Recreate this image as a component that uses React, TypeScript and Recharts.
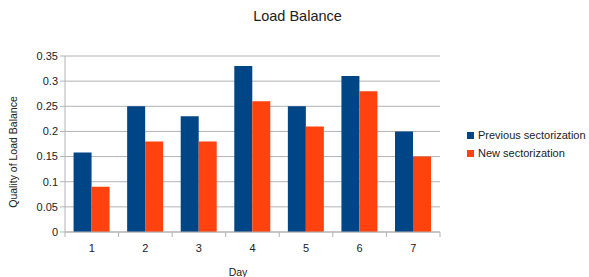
import React from "react";
import { BarChart, Bar, XAxis, YAxis, CartesianGrid, Label } from "recharts";

const DAYS = ["1", "2", "3", "4", "5", "6", "7"];
const PREVIOUS = [0.158, 0.25, 0.23, 0.33, 0.25, 0.31, 0.2];
const NEW = [0.09, 0.18, 0.18, 0.26, 0.21, 0.28, 0.15];
const Y_TICKS = [0, 0.05, 0.1, 0.15, 0.2, 0.25, 0.3, 0.35];

const BLUE = "#004586";
const ORANGE = "#ff420e";
const GRID = "#b3b3b3";
const FONT = "'Liberation Sans', Arial, sans-serif";

const data = DAYS.map((d, i) => ({ day: d, prev: PREVIOUS[i], next: NEW[i] }));

// tick label at band centre, tick marks at band edges
const DayTick = (props: any) => {
  const { x, y, payload, index } = props;
  const half = payload.offset || 0;
  const y0 = y - 8;
  return (
    <g>
      <line x1={x - half} x2={x - half} y1={y0} y2={y0 + 5} stroke={GRID} />
      {index === DAYS.length - 1 && (
        <line x1={x + half} x2={x + half} y1={y0} y2={y0 + 5} stroke={GRID} />
      )}
      <text x={x} y={y + 12} textAnchor="middle" fontSize={11} fill="#222" fontFamily={FONT}>
        {payload.value}
      </text>
    </g>
  );
};

const YTitle = () => (
  <text
    x={17}
    y={152}
    transform="rotate(-90 17 152)"
    textAnchor="middle"
    fontSize={10.5}
    fill="#222"
    fontFamily={FONT}
  >
    Quality of Load Balance
  </text>
);

const XTitle = () => (
  <text x={238} y={276} textAnchor="middle" fontSize={10.5} fill="#222" fontFamily={FONT}>
    Day
  </text>
);

export default function App() {
  return (
    <div style={{ position: "absolute", left: 0, top: 0, width: 589, height: 277, background: "#fff", fontFamily: FONT }}>
      <div style={{ position: "absolute", top: 8, width: 589, textAlign: "center", paddingLeft: 6, boxSizing: "border-box", fontSize: 14.5, color: "#222" }}>
        Load Balance
      </div>
      <BarChart
        width={589}
        height={277}
        data={data}
        margin={{ top: 56, right: 149, bottom: 0, left: 0 }}
        barGap={0}
        barCategoryGap="16%"
      >
        <CartesianGrid stroke={GRID} vertical={false} horizontalValues={Y_TICKS} />
        <XAxis
          dataKey="day"
          stroke={GRID}
          tickLine={false}
          tick={<DayTick />}
          height={45}
          interval={0}
        >
          <Label content={<XTitle />} />
        </XAxis>
        <YAxis
          domain={[0, 0.35]}
          ticks={Y_TICKS}
          width={65}
          stroke={GRID}
          tickSize={5}
          tick={{ fill: "#222", fontSize: 11, fontFamily: FONT }}
          interval={0}
        >
          <Label content={<YTitle />} />
        </YAxis>
        <YAxis yAxisId="right" orientation="right" width={0} stroke={GRID} tick={false} tickLine={false} domain={[0, 0.35]} />
        <Bar dataKey="prev" fill={BLUE} isAnimationActive={false} />
        <Bar dataKey="next" fill={ORANGE} isAnimationActive={false} />
      </BarChart>
      <div style={{ position: "absolute", left: 467, top: 126, fontSize: 11, color: "#222", lineHeight: "18px" }}>
        <div style={{ display: "flex", alignItems: "center" }}>
          <span style={{ width: 7, height: 7, background: BLUE, marginRight: 4, display: "inline-block" }} />
          Previous sectorization
        </div>
        <div style={{ display: "flex", alignItems: "center" }}>
          <span style={{ width: 7, height: 7, background: ORANGE, marginRight: 4, display: "inline-block" }} />
          New sectorization
        </div>
      </div>
    </div>
  );
}
